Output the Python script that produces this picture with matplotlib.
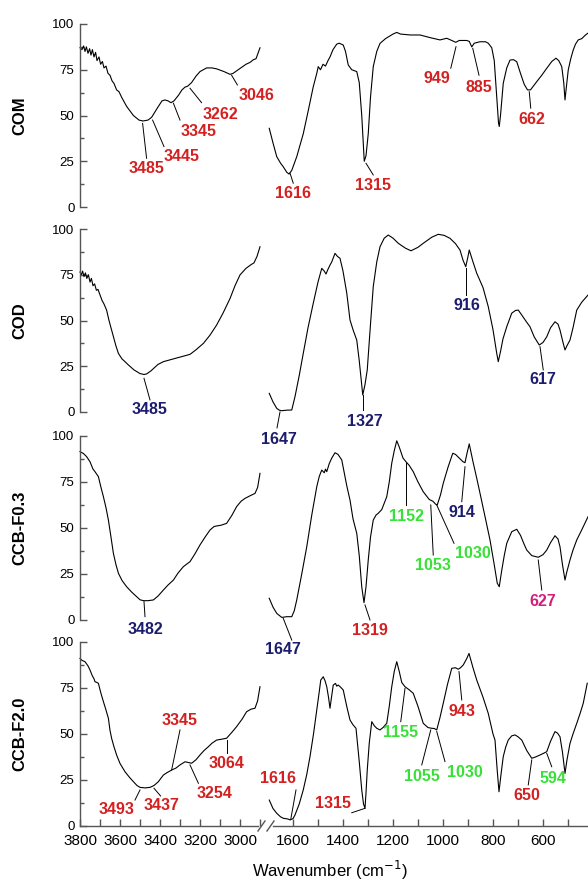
import matplotlib
matplotlib.use("Agg")
import matplotlib.pyplot as plt
from matplotlib.ticker import FixedLocator

plt.rcParams['font.family'] = ['Liberation Sans', 'DejaVu Sans']

# ---------------- data ----------------
panel_names = ["COM", "COD", "CCB-F0.3", "CCB-F2.0"]

com_left_wn = [3800, 3790, 3782, 3775, 3768, 3760, 3752, 3745, 3738, 3730, 3722, 3715, 3705, 3697, 3688, 3680, 3670, 3660, 3650, 3640, 3630, 3617, 3605, 3592, 3567, 3533, 3505, 3485, 3460, 3442, 3425, 3408, 3390, 3375, 3360, 3345, 3330, 3308, 3290, 3275, 3262, 3242, 3220, 3200, 3167, 3140, 3117, 3080, 3050, 3035, 3000, 2970, 2950, 2933, 2920, 2910, 2900]
com_left_t = [87, 86, 88, 85, 87.5, 84, 86.5, 83, 86, 82, 84.5, 80, 82, 78, 79.5, 76, 77, 73, 72, 69, 67.5, 64, 63, 60, 55, 50, 47.5, 47, 47.5, 49, 52, 55, 58, 58.5, 58, 57, 58, 61, 64, 65.5, 66, 68, 71.5, 74, 76, 76, 75.5, 74, 72.5, 73, 75.7, 78, 79, 80.5, 81, 84, 87]
com_right_wn = [1695, 1680, 1665, 1650, 1639, 1625, 1616, 1605, 1585, 1559, 1540, 1519, 1505, 1499, 1490, 1480, 1470, 1460, 1452, 1440, 1425, 1415, 1399, 1390, 1379, 1365, 1345, 1335, 1325, 1315, 1308, 1299, 1290, 1279, 1265, 1252, 1230, 1200, 1185, 1170, 1130, 1092, 1050, 1012, 985, 965, 949, 935, 905, 895, 885, 875, 852, 830, 819, 805, 795, 785, 778, 775, 770, 759, 745, 732, 718, 705, 690, 675, 662, 650, 625, 605, 585, 565, 548, 537, 525, 517, 512, 507, 499, 489, 479, 470, 459, 445, 430, 420]
com_right_t = [43, 35, 27.5, 24, 22, 19, 18, 20, 27.5, 40, 52, 65.7, 73, 76.7, 75, 78, 77, 80, 82, 86, 89, 89.5, 88.5, 85, 77.6, 75, 74, 68, 50, 25, 28, 40, 60, 76.7, 85, 89.4, 92, 94.5, 95.4, 94.5, 94, 94, 92.5, 91.3, 92.2, 91, 90, 91, 91, 90.5, 87.5, 89.5, 90.3, 90.3, 89.5, 87, 80, 60, 46, 44, 50, 67.6, 76, 80.3, 80.5, 79.4, 73, 67, 64, 64, 68.5, 72, 75.8, 79.5, 81.3, 80, 76.7, 68, 58.5, 65, 74.9, 81, 85.8, 89, 91.3, 92, 94, 95]

cod_left_wn = [3800, 3793, 3787, 3780, 3773, 3766, 3758, 3750, 3743, 3735, 3727, 3718, 3710, 3700, 3690, 3680, 3667, 3655, 3645, 3633, 3620, 3608, 3590, 3575, 3558, 3530, 3500, 3480, 3467, 3445, 3425, 3410, 3383, 3350, 3317, 3290, 3250, 3220, 3183, 3150, 3117, 3085, 3050, 3025, 3000, 2970, 2945, 2930, 2915, 2900]
cod_left_t = [76.5, 75, 77, 74, 76, 73, 75, 71, 73, 69, 70, 66.5, 67, 64, 61, 59, 55.7, 50, 46, 41.2, 36, 32, 29, 27.5, 25.7, 23, 21, 20.5, 20.8, 22.5, 24.5, 26, 27.5, 28.5, 29.5, 30.3, 31.5, 34, 37.5, 42, 47.5, 54, 62, 69, 74.9, 78.5, 80.5, 81.5, 85, 90.3]
cod_right_wn = [1695, 1680, 1665, 1655, 1645, 1625, 1605, 1592, 1575, 1559, 1540, 1519, 1500, 1485, 1475, 1468, 1460, 1452, 1445, 1432, 1422, 1412, 1400, 1385, 1372, 1360, 1345, 1335, 1321, 1312, 1303, 1290, 1279, 1265, 1252, 1235, 1219, 1200, 1179, 1150, 1128, 1100, 1079, 1045, 1019, 995, 972, 950, 932, 920, 909, 900, 895, 880, 865, 840, 819, 800, 785, 779, 770, 760, 745, 725, 710, 699, 685, 665, 652, 635, 615, 600, 585, 570, 552, 540, 532, 520, 512, 505, 492, 480, 465, 445, 420]
cod_right_t = [10.2, 5.5, 2, 1, 0.7, 1, 1.1, 8.4, 20, 32, 46, 59.4, 71, 78.5, 77, 75.4, 78, 80.3, 82, 86.7, 85, 84, 77, 65, 50.3, 45, 39.3, 28, 9.3, 15, 23, 48, 68.5, 82, 90.3, 95, 96.7, 95, 92.2, 89.5, 88.1, 90, 92.2, 95.5, 97.1, 96.5, 94.9, 92, 88.5, 83, 79.4, 85, 88.5, 82, 75.8, 68, 57.6, 45, 32, 27.5, 33, 40, 46.6, 54, 55.5, 55.7, 53, 49, 46.6, 41, 36.6, 38, 41.1, 46, 49.3, 48, 44.8, 38, 33.9, 36, 39.3, 46, 55.7, 60, 63.9]

f03_left_wn = [3800, 3783, 3767, 3750, 3735, 3725, 3708, 3695, 3683, 3670, 3658, 3645, 3633, 3620, 3608, 3590, 3567, 3540, 3517, 3500, 3483, 3460, 3433, 3410, 3383, 3360, 3333, 3310, 3283, 3265, 3250, 3225, 3200, 3175, 3150, 3130, 3117, 3095, 3067, 3040, 3017, 2995, 2975, 2950, 2925, 2912, 2900]
f03_left_t = [91.5, 90.5, 88.8, 86, 82, 80.6, 77.9, 72, 67, 61, 54.3, 45, 36.2, 30, 25.4, 21.5, 18.1, 15, 12.7, 11, 10.5, 10.5, 10.9, 13, 16.3, 19, 21.7, 25.5, 29, 30.5, 31.7, 36, 40.8, 45, 48.9, 50.8, 51.1, 51.5, 52.5, 57, 61.6, 64.5, 66.1, 67.5, 68.8, 72, 79.7]
f03_right_wn = [1695, 1680, 1665, 1645, 1625, 1605, 1595, 1585, 1565, 1545, 1525, 1505, 1495, 1485, 1475, 1470, 1465, 1455, 1445, 1432, 1420, 1405, 1395, 1385, 1372, 1360, 1345, 1335, 1325, 1316, 1308, 1299, 1290, 1279, 1268, 1259, 1245, 1225, 1215, 1205, 1195, 1185, 1175, 1160, 1148, 1135, 1119, 1100, 1079, 1055, 1040, 1030, 1023, 1010, 999, 980, 961, 950, 935, 920, 912, 905, 895, 880, 865, 852, 830, 812, 795, 783, 775, 765, 755, 745, 725, 705, 690, 675, 665, 645, 619, 600, 585, 570, 552, 540, 532, 522, 512, 505, 492, 480, 465, 445, 420]
f03_right_t = [11.8, 7, 3.6, 1.4, 1.8, 1.8, 5, 10.9, 25, 39.8, 57, 72.4, 78, 81.5, 80, 82, 80.6, 85, 88, 90.9, 90, 87, 80, 73, 65.2, 55, 47.1, 35, 18, 9.4, 18, 32.6, 45, 54.3, 57, 58, 60, 67, 75, 85.2, 92, 97.4, 94, 88, 86, 84, 80.6, 75, 69.7, 65.5, 64.5, 63, 62.5, 68, 74.3, 83, 90.6, 90, 88, 86, 85.5, 90, 95.7, 86, 77, 68.9, 55, 43.5, 30, 20, 18.1, 27, 35, 41.7, 48, 49.3, 46, 41, 38, 35, 34.1, 35.5, 38, 42, 45.8, 44, 39.8, 30, 21.7, 26, 32.6, 38, 43.5, 49, 56.1]

f20_left_wn = [3800, 3790, 3775, 3760, 3750, 3740, 3730, 3725, 3715, 3708, 3695, 3683, 3670, 3658, 3650, 3642, 3630, 3617, 3600, 3575, 3553, 3533, 3515, 3500, 3475, 3450, 3430, 3408, 3395, 3383, 3365, 3342, 3320, 3300, 3275, 3258, 3242, 3220, 3200, 3180, 3158, 3140, 3117, 3090, 3067, 3040, 3017, 2990, 2967, 2945, 2925, 2912, 2900]
f20_left_t = [91.1, 90, 89.3, 87, 84.8, 82, 80, 78.4, 78, 77.5, 72, 67.6, 63, 58.5, 52, 47.7, 43, 38.6, 34, 29.5, 26.5, 24.1, 22, 21, 20.7, 21, 22, 24.1, 26, 27.7, 29, 30.4, 31.5, 33.2, 34.9, 34.5, 34.1, 36, 38.6, 41, 43.1, 45, 46.7, 47.2, 47.7, 51, 54, 58, 62.1, 63.5, 64, 68, 75.7]
f20_right_wn = [1695, 1680, 1665, 1650, 1639, 1620, 1612, 1600, 1592, 1575, 1559, 1545, 1532, 1518, 1505, 1495, 1489, 1479, 1472, 1465, 1458, 1452, 1446, 1439, 1430, 1425, 1419, 1410, 1399, 1385, 1372, 1360, 1348, 1335, 1325, 1318, 1312, 1308, 1303, 1295, 1285, 1275, 1265, 1252, 1240, 1225, 1215, 1205, 1195, 1185, 1175, 1165, 1152, 1135, 1119, 1100, 1079, 1060, 1045, 1035, 1025, 1012, 999, 982, 965, 950, 939, 930, 919, 905, 896, 880, 865, 840, 819, 800, 792, 783, 776, 768, 759, 749, 739, 725, 712, 700, 685, 665, 645, 630, 612, 598, 585, 570, 552, 542, 532, 522, 512, 504, 492, 480, 465, 452, 439, 423]
f20_right_t = [14.1, 9.5, 6.9, 5, 4.2, 3.8, 3.3, 4, 6, 12, 19.6, 28, 37.7, 50, 63, 73, 79.3, 81.1, 79, 75.7, 70, 64, 70, 76.6, 77.5, 76, 76.6, 75.5, 73.9, 65, 57.6, 55, 53.1, 35, 19.6, 12, 9.6, 18, 30.4, 45, 56.7, 54.5, 53.1, 52.2, 53.5, 55.8, 65, 75.7, 84, 89.3, 84, 78, 75.7, 74, 72.1, 65, 55.8, 53.5, 53.1, 53, 52.2, 59, 66.7, 77, 85.7, 86, 85.2, 86, 87.5, 91, 93.8, 86, 79.3, 70, 61.2, 50, 46.7, 30, 18.6, 28, 37.7, 43, 46.7, 49, 49.5, 48.5, 46.7, 41, 36.8, 37.5, 38.6, 39.5, 40.4, 46, 51.3, 50.5, 48.5, 40, 28.6, 36, 44.9, 50, 55.8, 61, 66.7, 77.6]

RED, NAVY, GREEN, MAG = '#d42020', '#1c1c6e', '#38e038', '#d0207a'

# annotations: (label, colour, side, peak_wn, peak_T, leader_end_wn, leader_end_T, text_wn, text_T)
com_peaks = [
    ('3485', RED, 'L', 3487, 45.7, 3467, 26.6, 3467, 21),
    ('3445', RED, 'L', 3437, 47.5, 3380, 33, 3292, 27.5),
    ('3345', RED, 'L', 3333, 56.7, 3300, 47.5, 3205, 41),
    ('3262', RED, 'L', 3250, 64.9, 3192, 57, 3100, 50.6),
    ('3046', RED, 'L', 3042, 72, 3013, 66.7, 2917, 60.7),
    ('1616', RED, 'R', 1612, 18.5, 1599, 13, 1598, 7.5),
    ('1315', RED, 'R', 1308, 23.9, 1279, 17.5, 1279, 11.6),
    ('949', RED, 'R', 948, 87.6, 969, 75.8, 1025, 70),
    ('885', RED, 'R', 881, 86.7, 856, 72, 856, 65.4),
    ('662', RED, 'R', 655, 63, 649, 54, 645, 48),
]
cod_peaks = [
    ('3485', NAVY, 'L', 3480, 18.4, 3450, 6.6, 3450, 1.1),
    ('1647', NAVY, 'R', 1652, 0, 1664, -8.7, 1658, -15.3),
    ('1327', NAVY, 'R', 1320, 9.3, 1320, 1.1, 1312, -5.3),
    ('916', NAVY, 'R', 909, 78.5, 909, 64, 905, 58),
    ('617', NAVY, 'R', 612, 35.7, 599, 23, 599, 17.5),
]
f03_peaks = [
    ('3482', NAVY, 'L', 3480, 10, 3475, 1.8, 3472, -5),
    ('1647', NAVY, 'R', 1639, 0.9, 1605, -10.9, 1640, -16.3),
    ('1319', RED, 'R', 1312, 8.2, 1292, 0, 1292, -5.8),
    ('1152', GREEN, 'R', 1148, 85.2, 1148, 62.5, 1148, 56.1),
    ('1053', GREEN, 'R', 1049, 62.5, 1039, 35.3, 1039, 29.5),
    ('1030', GREEN, 'R', 1025, 62.5, 956, 41.7, 879, 35.9),
    ('914', NAVY, 'R', 912, 83.3, 925, 64.3, 925, 58.3),
    ('627', MAG, 'R', 619, 32.6, 605, 16.3, 599, 10),
]
f20_peaks = [
    ('3493', RED, 'L', 3500, 19.6, 3525, 14.1, 3617, 8.7),
    ('3437', RED, 'L', 3430, 20.5, 3397, 16.3, 3392, 10.9),
    ('3345', RED, 'L', 3342, 30.4, 3300, 52.2, 3300, 57.2),
    ('3254', RED, 'L', 3250, 33.2, 3208, 23.2, 3125, 17.8),
    ('3064', RED, 'L', 3067, 46.7, 3067, 39.5, 3067, 34.1),
    ('1616', RED, 'R', 1609, 3.6, 1588, 19.6, 1659, 25.9),
    ('1315', RED, 'R', 1312, 9.6, 1365, 7.2, 1439, 12),
    ('1155', GREEN, 'R', 1152, 74.8, 1169, 56.7, 1169, 50.7),
    ('1055', GREEN, 'R', 1049, 52.2, 1085, 33.2, 1085, 26.8),
    ('1030', GREEN, 'R', 992, 35, 1025, 51.3, 912, 29),
    ('943', RED, 'R', 936, 83.9, 925, 68.5, 925, 62.1),
    ('650', RED, 'R', 645, 35.9, 659, 22.3, 663, 16.5),
    ('594', GREEN, 'R', 585, 39.5, 565, 32.2, 561, 25.9),
]

spectra = [
    (com_left_wn, com_left_t, com_right_wn, com_right_t, com_peaks),
    (cod_left_wn, cod_left_t, cod_right_wn, cod_right_t, cod_peaks),
    (f03_left_wn, f03_left_t, f03_right_wn, f03_right_t, f03_peaks),
    (f20_left_wn, f20_left_t, f20_right_wn, f20_right_t, f20_peaks),
]

# ---------------- layout ----------------
W, H = 588, 881
fig = plt.figure(figsize=(W / 100, H / 100), dpi=100)
panel_px = [(24, 207), (229, 412), (436, 620), (642, 826)]
left_px = (80, 262)
right_px = (268, 588)
SPINE = '#555555'

def fx(px):
    return px / W

for i, ((t, b), name, (lw, lt, rw, rt, peaks)) in enumerate(zip(panel_px, panel_names, spectra)):
    bottom = 1 - b / H
    height = (b - t) / H
    axl = fig.add_axes([fx(left_px[0]), bottom, fx(left_px[1] - left_px[0]), height])
    axr = fig.add_axes([fx(right_px[0]), bottom, fx(right_px[1] - right_px[0]), height])
    axl.patch.set_alpha(0)
    axr.patch.set_alpha(0)
    axl.set_xlim(3800, 2890)
    axr.set_xlim(1700, 420)
    for ax in (axl, axr):
        ax.set_ylim(0, 100)
        for s in ('top', 'right'):
            ax.spines[s].set_visible(False)
        for s in ax.spines.values():
            s.set_color(SPINE)
            s.set_linewidth(1.0)
    axr.spines['left'].set_visible(False)
    axr.tick_params(axis='y', left=False, labelleft=False)

    axl.yaxis.set_major_locator(FixedLocator([0, 25, 50, 75, 100]))
    axl.yaxis.set_minor_locator(FixedLocator([12.5, 37.5, 62.5, 87.5]))
    axl.tick_params(axis='y', which='major', direction='in', length=5, width=1,
                    color=SPINE, labelsize=9.5, pad=4)
    axl.tick_params(axis='y', which='minor', direction='in', length=3, width=1, color=SPINE)

    axl.plot(lw, lt, color='black', lw=0.8, clip_on=False)
    axr.plot(rw, rt, color='black', lw=0.8, clip_on=False)

    for (lab, col, side, x0, y0, x1, y1, xt, yt) in peaks:
        ax = axl if side == 'L' else axr
        ax.plot([x0, x1], [y0, y1], color='black', lw=0.7, clip_on=False)
        ax.text(xt, yt, lab, color=col, fontsize=11.5, fontweight='bold',
                ha='center', va='center', clip_on=False)

    fig.text(fx(20), 1 - (t + b) / 2 / H, name, rotation=90, fontsize=12,
             fontweight='bold', ha='center', va='center')

    if i < 3:
        for ax in (axl, axr):
            ax.spines['bottom'].set_visible(False)
            ax.tick_params(axis='x', which='both', bottom=False, labelbottom=False)
    else:
        axl.spines['bottom'].set_bounds(3800, 2910)
        axr.spines['bottom'].set_bounds(1680, 420)
        axl.xaxis.set_major_locator(FixedLocator([3800, 3600, 3400, 3200, 3000]))
        axl.xaxis.set_minor_locator(FixedLocator([3700, 3500, 3300, 3100, 2900]))
        axr.xaxis.set_major_locator(FixedLocator([1600, 1400, 1200, 1000, 800, 600]))
        axr.xaxis.set_minor_locator(FixedLocator([1500, 1300, 1100, 900, 700, 500]))
        for ax in (axl, axr):
            ax.tick_params(axis='x', which='major', direction='in', length=5, width=1,
                           color=SPINE, labelsize=11, pad=6)
            ax.tick_params(axis='x', which='minor', direction='in', length=5, width=1,
                           color=SPINE)
        # axis-break marks
        for xa in (258, 267):
            fig.add_artist(plt.Line2D([fx(xa), fx(xa + 7)],
                                      [1 - (b + 5) / H, 1 - (b - 5) / H],
                                      color=SPINE, lw=1.0))

fig.text(fx(330), 1 - 870 / H, 'Wavenumber (cm$^{-1}$)', fontsize=12,
         ha='center', va='center')

fig.savefig('out.png', dpi=100)
